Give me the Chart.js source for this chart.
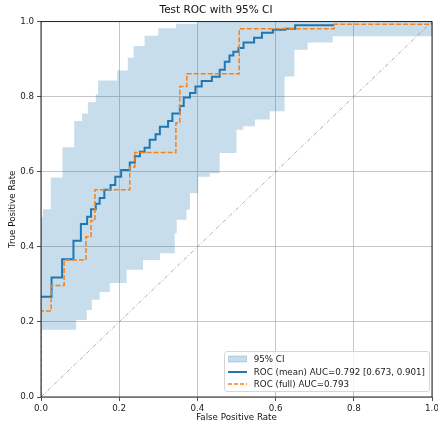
<!DOCTYPE html>
<html>
<head>
<meta charset="utf-8">
<script src="https://cdn.jsdelivr.net/npm/chart.js@4.4.1/dist/chart.umd.min.js"></script>
<style>
  html, body { margin: 0; padding: 0; background: #fff; overflow: hidden; }
  #wrap { position: relative; width: 438px; height: 423px; }
  #legend {
    position: absolute; box-sizing: border-box;
    background: rgba(255,255,255,0.8); border: 1px solid #d6d6d6; border-radius: 3px;
    font-family: "DejaVu Sans", sans-serif; font-size: 8.7px; color: #1a1a1a;
    padding: 1px 4px 1px 3px;
  }
  #legend .row { display: flex; align-items: center; height: 12.3px; white-space: nowrap; }
  #legend svg { margin-right: 7px; flex: none; }
</style>
</head>
<body>
<div id="wrap">
  <canvas id="c" width="438" height="423"></canvas>
  <div id="legend"></div>
</div>
<script>
// ---- data ----
const titleText = "Test ROC with 95% CI";
const xTitle = "False Positive Rate";
const yTitle = "True Positive Rate";
const tickValues = [0, 0.2, 0.4, 0.6, 0.8, 1.0];
const legendLabels = ["95% CI", "ROC (mean) AUC=0.792 [0.673, 0.901]", "ROC (full) AUC=0.793"];

// ROC of the full data set (step curve corners)
const fullFpr = [0, 0, 0.026, 0.026, 0.059, 0.059, 0.115, 0.115, 0.128, 0.128, 0.138, 0.138, 0.227, 0.227, 0.24, 0.24, 0.345, 0.345, 0.355, 0.355, 0.373, 0.373, 0.507, 0.507, 0.75, 0.75, 1.0, 1.0];
const fullTpr = [0, 0.229, 0.229, 0.297, 0.297, 0.365, 0.365, 0.427, 0.427, 0.47, 0.47, 0.552, 0.552, 0.613, 0.613, 0.651, 0.651, 0.73, 0.73, 0.827, 0.827, 0.861, 0.861, 0.981, 0.981, 0.993, 0.993, 1.0];

// mean bootstrap ROC
const meanFpr = [0, 0.027, 0.027, 0.054, 0.054, 0.083, 0.083, 0.102, 0.102, 0.118, 0.118, 0.128, 0.128, 0.14, 0.14, 0.15, 0.15, 0.162, 0.162, 0.178, 0.178, 0.19, 0.19, 0.205, 0.205, 0.227, 0.227, 0.24, 0.24, 0.253, 0.253, 0.265, 0.265, 0.278, 0.278, 0.293, 0.293, 0.304, 0.304, 0.325, 0.325, 0.336, 0.336, 0.355, 0.355, 0.365, 0.365, 0.381, 0.381, 0.395, 0.395, 0.411, 0.411, 0.437, 0.437, 0.457, 0.457, 0.47, 0.47, 0.482, 0.482, 0.492, 0.492, 0.505, 0.505, 0.518, 0.518, 0.545, 0.545, 0.565, 0.565, 0.593, 0.593, 0.625, 0.625, 0.65, 0.65, 0.75, 0.75, 1.0];
const meanTpr = [0.267, 0.267, 0.318, 0.318, 0.367, 0.367, 0.416, 0.416, 0.461, 0.461, 0.48, 0.48, 0.5, 0.5, 0.515, 0.515, 0.53, 0.53, 0.552, 0.552, 0.565, 0.565, 0.587, 0.587, 0.605, 0.605, 0.625, 0.625, 0.641, 0.641, 0.653, 0.653, 0.664, 0.664, 0.685, 0.685, 0.7, 0.7, 0.72, 0.72, 0.735, 0.735, 0.755, 0.755, 0.775, 0.775, 0.798, 0.798, 0.81, 0.81, 0.827, 0.827, 0.842, 0.842, 0.853, 0.853, 0.872, 0.872, 0.893, 0.893, 0.91, 0.91, 0.92, 0.92, 0.93, 0.93, 0.944, 0.944, 0.957, 0.957, 0.97, 0.97, 0.978, 0.978, 0.981, 0.981, 0.99, 0.99];

// 95% CI band: upper and lower bounds
const upperFpr = [0, 0.005, 0.005, 0.025, 0.025, 0.055, 0.055, 0.085, 0.085, 0.105, 0.105, 0.12, 0.12, 0.14, 0.14, 0.146, 0.146, 0.195, 0.195, 0.222, 0.222, 0.237, 0.237, 0.265, 0.265, 0.3, 0.3, 0.345, 0.345, 0.4, 0.4, 1.0];
const upperTpr = [0.48, 0.48, 0.5, 0.5, 0.585, 0.585, 0.665, 0.665, 0.735, 0.735, 0.755, 0.755, 0.785, 0.785, 0.806, 0.806, 0.843, 0.843, 0.87, 0.87, 0.904, 0.904, 0.935, 0.935, 0.962, 0.962, 0.982, 0.982, 0.994, 0.994, 1.0, 1.0];
const lowerFpr = [0, 0.09, 0.09, 0.117, 0.117, 0.13, 0.13, 0.15, 0.15, 0.176, 0.176, 0.219, 0.219, 0.261, 0.261, 0.304, 0.304, 0.342, 0.342, 0.347, 0.347, 0.372, 0.372, 0.381, 0.381, 0.402, 0.402, 0.432, 0.432, 0.457, 0.457, 0.5, 0.5, 0.517, 0.517, 0.547, 0.547, 0.585, 0.585, 0.623, 0.623, 0.648, 0.648, 0.682, 0.682, 0.746, 0.746, 1.0];
const lowerTpr = [0.179, 0.179, 0.205, 0.205, 0.232, 0.232, 0.259, 0.259, 0.28, 0.28, 0.304, 0.304, 0.339, 0.339, 0.365, 0.365, 0.383, 0.383, 0.436, 0.436, 0.472, 0.472, 0.499, 0.499, 0.543, 0.543, 0.587, 0.587, 0.596, 0.596, 0.65, 0.65, 0.712, 0.712, 0.721, 0.721, 0.739, 0.739, 0.761, 0.761, 0.854, 0.854, 0.925, 0.925, 0.944, 0.944, 0.961, 0.961];

// chance diagonal
const diagX = [0, 1];
const diagY = [0, 1];

// ---- build ----
const FONT = '"DejaVu Sans", sans-serif';
const BLUE = '#1f77b4', ORANGE = '#ff7f0e', BAND = 'rgba(31,119,180,0.25)';
const pts = (xs, ys) => xs.map((x, i) => ({ x: x, y: ys[i] }));
const bandPts = pts(upperFpr, upperTpr).concat(pts(lowerFpr, lowerTpr).reverse());

const spines = {
  id: 'spines',
  afterDatasetsDraw(chart) {
    const { ctx, chartArea: a } = chart;
    ctx.save();
    ctx.strokeStyle = '#111';
    ctx.lineWidth = 0.9;
    ctx.strokeRect(a.left, a.top, a.right - a.left, a.bottom - a.top);
    ctx.restore();
  }
};

const tickFont = { family: FONT, size: 8.7 };
const chart = new Chart(document.getElementById('c'), {
  type: 'scatter',
  data: {
    datasets: [
      { label: legendLabels[2], data: pts(fullFpr, fullTpr), showLine: true, borderColor: ORANGE, borderWidth: 1.5, borderDash: [5, 2], pointRadius: 0, fill: false },
      { label: legendLabels[1], data: pts(meanFpr, meanTpr), showLine: true, borderColor: BLUE, borderWidth: 2, pointRadius: 0, fill: false },
      { label: 'chance', data: pts(diagX, diagY), showLine: true, borderColor: 'rgba(120,120,120,0.75)', borderWidth: 0.8, borderDash: [4, 2, 1, 2], pointRadius: 0, fill: false },
      { label: legendLabels[0], data: bandPts, showLine: true, borderWidth: 0, borderColor: 'rgba(0,0,0,0)', backgroundColor: BAND, pointRadius: 0, fill: 'shape' }
    ]
  },
  options: {
    responsive: false,
    animation: false,
    devicePixelRatio: 1,
    layout: { padding: { left: 0, right: 6, top: 0, bottom: 0 } },
    plugins: {
      legend: { display: false },
      tooltip: { enabled: false },
      title: { display: true, text: titleText, color: '#111', font: { family: FONT, size: 10.5, weight: 'normal' }, padding: { top: 4, bottom: 5 } }
    },
    scales: {
      x: {
        type: 'linear', min: 0, max: 1,
        afterBuildTicks(s) { s.ticks = tickValues.map(v => ({ value: v })); },
        ticks: { callback: v => Number(v).toFixed(1), font: tickFont, color: '#222', padding: 3, maxRotation: 0, autoSkip: false },
        grid: { color: '#b8b8b8', lineWidth: 0.8, tickLength: 4, tickColor: '#222', tickWidth: 0.8 },
        border: { display: false },
        title: { display: true, text: xTitle, font: tickFont, color: '#111', padding: { top: 0, bottom: 0 } },
        afterFit(s) { s.paddingLeft = 0; s.paddingRight = 0; s.height = 26; }
      },
      y: {
        type: 'linear', min: 0, max: 1,
        afterBuildTicks(s) { s.ticks = tickValues.map(v => ({ value: v })); },
        ticks: { callback: v => Number(v).toFixed(1), font: tickFont, color: '#222', padding: 3, autoSkip: false },
        grid: { color: '#b8b8b8', lineWidth: 0.8, tickLength: 4, tickColor: '#222', tickWidth: 0.8 },
        border: { display: false },
        title: { display: true, text: yTitle, font: tickFont, color: '#111', padding: { top: 7.6, bottom: 0 } },
        afterFit(s) { s.width = 41; s.paddingTop = 0; s.paddingBottom = 0; }
      }
    }
  },
  plugins: [spines]
});

// ---- legend (HTML text) ----
const handles = [
  '<svg width="19" height="8"><rect x="0.5" y="1" width="18" height="6" fill="' + BAND + '" stroke="' + BAND + '"/></svg>',
  '<svg width="19" height="8"><line x1="0" y1="4" x2="19" y2="4" stroke="' + BLUE + '" stroke-width="2"/></svg>',
  '<svg width="19" height="8"><line x1="0" y1="4" x2="19" y2="4" stroke="' + ORANGE + '" stroke-width="1.5" stroke-dasharray="4,2"/></svg>'
];
const leg = document.getElementById('legend');
leg.innerHTML = legendLabels.map((t, i) => '<div class="row">' + handles[i] + '<span>' + t + '</span></div>').join('');
const a = chart.chartArea;
leg.style.right = (438 - a.right + 2) + 'px';
leg.style.bottom = (423 - a.bottom + 5) + 'px';
</script>
</body>
</html>
